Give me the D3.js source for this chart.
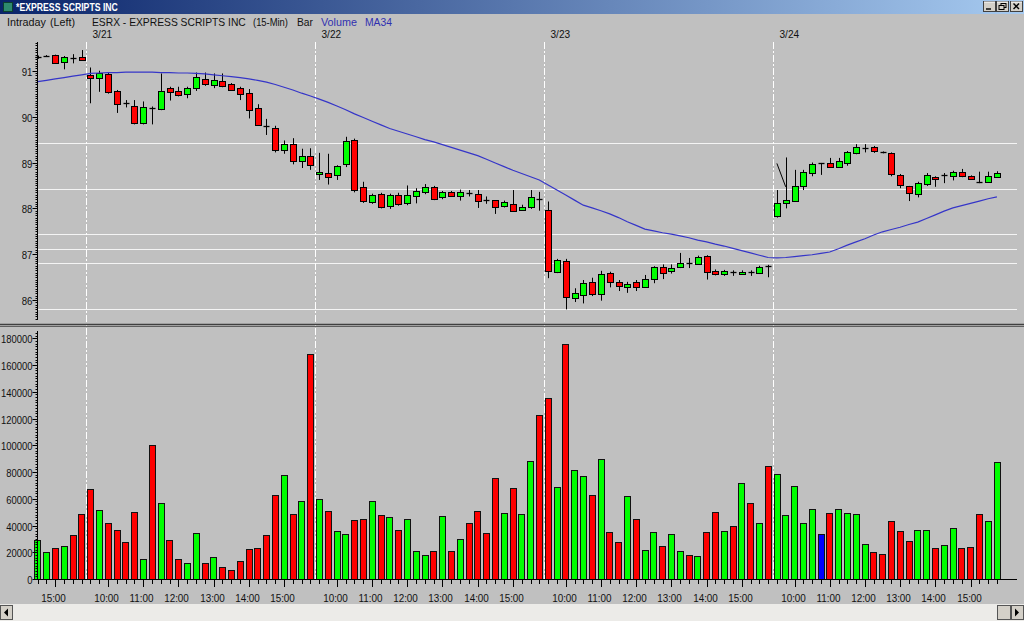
<!DOCTYPE html>
<html><head><meta charset="utf-8">
<script src="https://cdn.jsdelivr.net/npm/d3@7"></script>
<style>
html,body{margin:0;padding:0;background:#c0c0c0;overflow:hidden}
svg{display:block}
text{font-family:"Liberation Sans",Arial,sans-serif}
</style></head><body>
<svg id="chart" width="1024" height="621"></svg>
<script>
// ---------- DATA ----------
const openP = [91.29,91.31,91.34,91.18,91.29,91.30,
 90.91,90.84,90.93,90.56,90.30,90.24,89.87,90.20,90.17,90.62,90.56,90.49,90.62,90.82,90.69,90.78,90.70,90.62,90.51,90.18,89.81,89.75,89.27,89.40,89.04,89.14,
 88.75,88.78,88.73,88.97,89.49,88.47,88.15,88.31,88.05,88.30,88.12,88.28,88.35,88.47,88.24,88.35,88.26,88.34,88.31,88.18,88.18,88.05,88.10,87.97,88.02,88.21,
 87.96,86.62,86.86,86.04,86.11,86.39,86.13,86.60,86.40,86.29,86.39,86.29,86.46,86.72,86.64,86.72,86.81,86.79,86.96,86.64,86.57,86.61,86.57,86.61,86.59,86.76,
 87.83,88.12,88.16,88.49,88.77,88.98,89.00,88.91,89.00,89.20,89.31,89.34,89.23,89.20,88.73,88.49,88.31,88.53,88.69,88.72,88.71,88.80,88.71,88.58,88.58,88.69];
const highP = [91.33,91.34,91.35,91.32,91.36,91.45,
 91.07,91.00,90.97,90.58,90.36,90.36,90.33,90.22,90.94,90.65,90.65,90.65,90.96,90.96,90.94,90.94,90.73,90.65,90.60,90.27,89.95,89.80,89.48,89.53,89.30,89.31,
 89.21,89.19,88.94,89.56,89.52,88.58,88.32,88.34,88.32,88.34,88.50,88.44,88.53,88.49,88.38,88.38,88.41,88.40,88.40,88.26,88.18,88.17,88.40,88.08,88.40,88.36,
 88.15,86.90,86.90,86.26,86.44,86.49,86.64,86.62,86.44,86.40,86.44,86.55,86.74,86.78,86.78,87.03,86.92,86.97,86.98,86.67,86.66,86.65,86.65,86.65,86.75,86.77,
 88.40,89.11,88.84,88.84,89.00,88.99,89.10,89.10,89.25,89.40,89.40,89.36,89.24,89.22,88.75,88.49,88.58,88.77,88.70,88.77,88.82,88.86,88.72,88.80,88.80,88.81];
const lowP = [91.26,91.30,91.16,91.03,91.16,91.22,
 90.29,90.54,90.50,90.08,90.20,89.83,89.83,89.83,90.14,90.35,90.44,90.40,90.56,90.67,90.62,90.64,90.57,90.36,89.96,89.80,89.60,89.22,89.19,88.96,88.88,88.84,
 88.62,88.52,88.62,88.90,88.35,88.12,88.10,88.00,87.99,88.06,88.07,88.11,88.31,88.18,88.20,88.26,88.17,88.26,88.01,88.10,87.88,88.02,87.94,87.95,87.99,87.95,
 86.48,86.59,85.80,85.96,85.93,86.09,85.99,86.28,86.20,86.16,86.20,86.27,86.37,86.46,86.58,86.70,86.70,86.77,86.45,86.54,86.53,86.53,86.55,86.53,86.57,86.50,
 87.80,88.00,88.14,88.40,88.70,88.73,88.89,88.88,88.93,89.18,89.22,89.21,89.20,88.70,88.44,88.16,88.24,88.49,88.47,88.55,88.61,88.68,88.62,88.55,88.56,88.67];
const closeP = [91.30,91.32,91.17,91.30,91.28,91.23,
 90.85,90.94,90.54,90.27,90.28,89.85,90.20,90.18,90.56,90.54,90.46,90.62,90.87,90.72,90.80,90.67,90.58,90.49,90.14,89.82,89.79,89.27,89.40,89.04,89.14,88.95,
 88.79,88.69,88.92,89.47,88.40,88.17,88.30,88.02,88.30,88.09,88.30,88.38,88.46,88.20,88.35,88.28,88.35,88.33,88.16,88.17,88.04,88.13,87.95,88.04,88.25,88.20,
 86.64,86.88,86.06,86.15,86.38,86.13,86.57,86.39,86.31,86.35,86.29,86.46,86.72,86.60,86.71,86.80,86.80,86.95,86.61,86.57,86.64,86.60,86.62,86.60,86.73,86.75,
 88.12,88.18,88.49,88.79,88.97,88.98,88.91,89.04,89.22,89.33,89.34,89.25,89.22,88.74,88.51,88.33,88.56,88.73,88.64,88.73,88.79,88.71,88.63,88.57,88.71,88.77];
const volume = [29000,20000,23000,25000,33000,48500,
 67000,51500,42000,36600,27900,49800,15200,100000,57000,29000,15200,11700,34100,12200,16700,9200,6700,13200,22200,22900,32900,62500,77400,48500,58000,168600,
 59500,51000,35600,33600,43800,45000,58000,48000,46000,36600,44600,21100,17700,21100,47300,21100,29600,41800,50800,34100,75400,49000,67700,48300,87900,123000,
 135000,69000,176000,81400,76900,62700,89600,35300,27900,62000,44600,21900,35100,24600,33900,20700,18200,16900,35100,50000,35900,39600,71500,57000,41600,84600,
 78200,47600,69200,41800,52300,33600,49300,52000,49300,48800,25900,19900,18700,43300,35900,28400,36400,36400,23200,25400,38100,23200,23700,48300,43100,87600];
const ma34 = [90.76,90.79,90.82,90.85,90.88,90.91,
 90.94,90.95,90.96,90.96,90.97,90.97,90.97,90.97,90.96,90.96,90.95,90.95,90.94,90.93,90.91,90.89,90.87,90.85,90.82,90.79,90.75,90.70,90.64,90.58,90.51,90.45,
 90.38,90.31,90.23,90.15,90.06,89.98,89.90,89.82,89.74,89.68,89.62,89.56,89.50,89.45,89.39,89.33,89.27,89.21,89.15,89.07,88.99,88.91,88.83,88.76,88.69,88.62,
 88.51,88.40,88.29,88.18,88.07,88.01,87.95,87.88,87.80,87.71,87.63,87.55,87.51,87.47,87.44,87.40,87.36,87.31,87.27,87.22,87.18,87.13,87.08,87.03,86.98,86.93,
 86.92,86.93,86.95,86.97,86.99,87.02,87.05,87.12,87.20,87.27,87.34,87.42,87.49,87.54,87.59,87.65,87.70,87.78,87.86,87.94,88.01,88.06,88.11,88.16,88.21,88.25];
const highlightBar = 89;            // blue volume bar
const dayLabels = ["3/21","3/22","3/23","3/24"];
const dayStartIndex = [6,32,58,84];
const timeTickLabels = ["15:00",
 "10:00","11:00","12:00","13:00","14:00","15:00",
 "10:00","11:00","12:00","13:00","14:00","15:00",
 "10:00","11:00","12:00","13:00","14:00","15:00",
 "10:00","11:00","12:00","13:00","14:00","15:00"];
const timeTickIndex = [2, 8,12,16,20,24,28, 34,38,42,46,50,54, 60,64,68,72,76,80, 86,90,94,98,102,106];
const priceTicks = [86,87,88,89,90,91];
const volumeTicks = [0,20000,40000,60000,80000,100000,120000,140000,160000,180000];
const levelLines = [89.42,88.42,87.44,87.11,86.80,85.80];
const trendLine = [{i:84,p:88.98},{i:85,p:88.47}];
const headerTexts = ["Intraday","(Left)","ESRX - EXPRESS SCRIPTS INC","(15-Min)","Bar","Volume","MA34"];

// ---------- SCALES ----------
const n = closeP.length;
const svg = d3.select("#chart");
const x = d3.scaleBand().domain(d3.range(n)).range([33.3, 1001.3]);
const bw = x.bandwidth();
const cx = i => x(i) + bw/2;
const yP = d3.scaleLinear().domain([86,91]).range([300.2,70.7]);
const yV = d3.scaleLinear().domain([0,180000]).range([579,338.3]);
const AX = 37.5, RIGHT = 1017;

function label(tx, ty, str, opt){
  opt = opt || {};
  const t = svg.append("text")
    .attr("font-size", opt.size||11).attr("fill", opt.fill||"#111")
    .attr("text-anchor", opt.anchor||"start").text(str);
  if (opt.bold) t.attr("font-weight","bold");
  let sx = opt.sx || 1;
  if (opt.len) { const w = t.node().getComputedTextLength(); if (w > 0) sx = opt.len / w; }
  t.attr("transform", `translate(${tx},${ty}) scale(${sx},1)`);
  return t;
}

svg.append("rect").attr("width",1024).attr("height",621).attr("fill","#c0c0c0");

// ---------- TITLE BAR ----------
const defs = svg.append("defs");
const lg = defs.append("linearGradient").attr("id","tb");
lg.append("stop").attr("offset","0%").attr("stop-color","#0a246a");
lg.append("stop").attr("offset","100%").attr("stop-color","#a6caf0");
svg.append("rect").attr("width",1024).attr("height",14).attr("fill","url(#tb)");
svg.append("rect").attr("x",3.5).attr("y",2.5).attr("width",9).attr("height",9).attr("fill","#2e8a6e").attr("stroke","#0c4030");
label(16, 11, "*EXPRESS SCRIPTS INC", {fill:"#fff", bold:true, len:102});
[983,996,1010].forEach((bx,k)=>{
  svg.append("rect").attr("x",bx+0.5).attr("y",1.5).attr("width",12).attr("height",10).attr("fill","#d4d0c8").attr("stroke","#404040");
  svg.append("line").attr("x1",bx+1).attr("x2",bx+12).attr("y1",2).attr("y2",2).attr("stroke","#fff");
  const g = svg.append("g").attr("stroke","#000").attr("fill","none").attr("stroke-width",1.4);
  if(k===0) g.append("line").attr("x1",bx+3).attr("x2",bx+8).attr("y1",9).attr("y2",9);
  if(k===1){ g.append("rect").attr("x",bx+5).attr("y",3.5).attr("width",5).attr("height",4).attr("stroke-width",1);
             g.append("rect").attr("x",bx+3).attr("y",5.5).attr("width",5).attr("height",4).attr("stroke-width",1).attr("fill","#d4d0c8"); }
  if(k===2){ g.append("line").attr("x1",bx+3.5).attr("x2",bx+9).attr("y1",3.5).attr("y2",9);
             g.append("line").attr("x1",bx+9).attr("x2",bx+3.5).attr("y1",3.5).attr("y2",9); }
});

// ---------- HEADER ----------
const hdrX = [7,50,92,253,297,321,365];
const hdrLen = [39,25,154,35,16,36,27];
headerTexts.forEach((h,k)=>label(hdrX[k], 26, h, {len:hdrLen[k], fill: k>=5 ? "#3030b0" : "#111"}));

// ---------- GRID / SEPARATORS ----------
const sepX = dayStartIndex.map(i => Math.round(x(i)) + 0.5);
levelLines.forEach(p=>svg.append("line").attr("x1",AX).attr("x2",RIGHT).attr("y1",Math.round(yP(p))+0.5).attr("y2",Math.round(yP(p))+0.5).attr("stroke","#f4f4f4").attr("stroke-width",1.2));
sepX.forEach((sx,k)=>{
  svg.append("line").attr("x1",sx).attr("x2",sx).attr("y1",42).attr("y2",579).attr("stroke","#fff").attr("stroke-dasharray","7,2,2,2");
  label(sx+6, 38, dayLabels[k], {sx:0.92});
});

// panel separator
svg.append("line").attr("x1",0).attr("x2",1024).attr("y1",324.5).attr("y2",324.5).attr("stroke","#404040").attr("stroke-width",1.5);
svg.append("line").attr("x1",0).attr("x2",1024).attr("y1",326.5).attr("y2",326.5).attr("stroke","#606060").attr("stroke-width",1);

// ---------- VOLUME BARS ----------
svg.append("g").selectAll("rect").data(d3.range(n)).join("rect")
  .attr("x",i=>Math.round(cx(i)-3.3)+0.5).attr("width",6)
  .attr("y",i=>Math.round(yV(volume[i]))+0.5).attr("height",i=>Math.max(0,Math.round(yV(0))-Math.round(yV(volume[i]))))
  .attr("fill",i=> i===highlightBar ? "#0000ff" : (closeP[i] >= openP[i] ? "#00ff00" : "#ff0000"))
  .attr("stroke","#111").attr("stroke-width",1);

// ---------- CANDLES ----------
const cg = svg.append("g");
d3.range(n).forEach(i=>{
  const c = Math.round(cx(i)) + 0.5;
  cg.append("line").attr("x1",c).attr("x2",c).attr("y1",yP(highP[i])).attr("y2",yP(lowP[i])).attr("stroke","#000").attr("stroke-width",1);
  const top = yP(Math.max(openP[i],closeP[i])), bot = yP(Math.min(openP[i],closeP[i]));
  const up = closeP[i] >= openP[i];
  if (bot - top < 1.6) {
    const yy = Math.round((top+bot)/2)+0.5;
    cg.append("line").attr("x1",c-3).attr("x2",c+3).attr("y1",yy).attr("y2",yy).attr("stroke","#000").attr("stroke-width",1.3);
  } else {
    cg.append("rect").attr("x",c-3).attr("width",6).attr("y",Math.round(top)+0.5).attr("height",Math.round(bot)-Math.round(top))
      .attr("fill",up?"#00ff00":"#ff0000").attr("stroke","#000").attr("stroke-width",1);
  }
});

// ---------- MA34 ----------
svg.append("path").datum(ma34).attr("fill","none").attr("stroke","#3535c8").attr("stroke-width",1.2)
  .attr("d",d3.line().x((d,i)=>cx(i)).y(d=>yP(d)));

// trend annotation
svg.append("path").datum(trendLine).attr("fill","none").attr("stroke","#000").attr("stroke-width",1)
  .attr("d",d3.line().x(d=>cx(d.i)).y(d=>yP(d.p)));

// ---------- AXES ----------
const axG = svg.append("g").attr("stroke","#000");
axG.append("line").attr("x1",AX).attr("x2",AX).attr("y1",42).attr("y2",320);
axG.append("line").attr("x1",AX).attr("x2",AX).attr("y1",331).attr("y2",579);
d3.range(85.6,91.61,0.05).forEach(p=>{ const yy=Math.round(yP(p))+0.5; if(yy>=42&&yy<=320) axG.append("line").attr("x1",AX-2).attr("x2",AX).attr("y1",yy).attr("y2",yy); });
d3.range(0,186001,2000).forEach(v=>{ const yy=Math.round(yV(v))+0.5; if(yy>=331) axG.append("line").attr("x1",AX-2).attr("x2",AX).attr("y1",yy).attr("y2",yy); });
priceTicks.forEach(p=>{
  const yy=Math.round(yP(p))+0.5;
  axG.append("line").attr("x1",AX-5).attr("x2",AX).attr("y1",yy).attr("y2",yy);
  label(AX-5, yy+4, p, {anchor:"end", sx:0.88});
});
volumeTicks.forEach(v=>{
  const yy=Math.round(yV(v))+0.5;
  axG.append("line").attr("x1",AX-5).attr("x2",AX).attr("y1",yy).attr("y2",yy);
  label(AX-5, yy+4, v, {anchor:"end", sx:0.86});
});
// x axis
axG.append("line").attr("x1",AX).attr("x2",RIGHT).attr("y1",579.5).attr("y2",579.5);
d3.range(n).forEach(i=>{ const c=Math.round(cx(i))+0.5; axG.append("line").attr("x1",c).attr("x2",c).attr("y1",579.5).attr("y2",584); });
timeTickIndex.forEach((i,k)=>{
  const c=Math.round(cx(i))+0.5;
  axG.append("line").attr("x1",c).attr("x2",c).attr("y1",579.5).attr("y2",587);
  label(c-2, 602, timeTickLabels[k], {anchor:"middle", sx:0.9});
});

// ---------- SCROLLBAR ----------
svg.append("rect").attr("x",0).attr("y",604).attr("width",1024).attr("height",17).attr("fill","#ecebe8");
function btn(bx,w){ svg.append("rect").attr("x",bx+0.5).attr("y",605.5).attr("width",w).attr("height",14).attr("fill","#d4d0c8").attr("stroke","#555"); }
btn(0,12); btn(997,13); btn(1011,12);
svg.append("path").attr("d","M4,612.5 L8,608.5 L8,616.5 Z").attr("fill","#000");
svg.append("path").attr("d","M1019,612.5 L1015,608.5 L1015,616.5 Z").attr("fill","#000");
</script>
</body></html>
